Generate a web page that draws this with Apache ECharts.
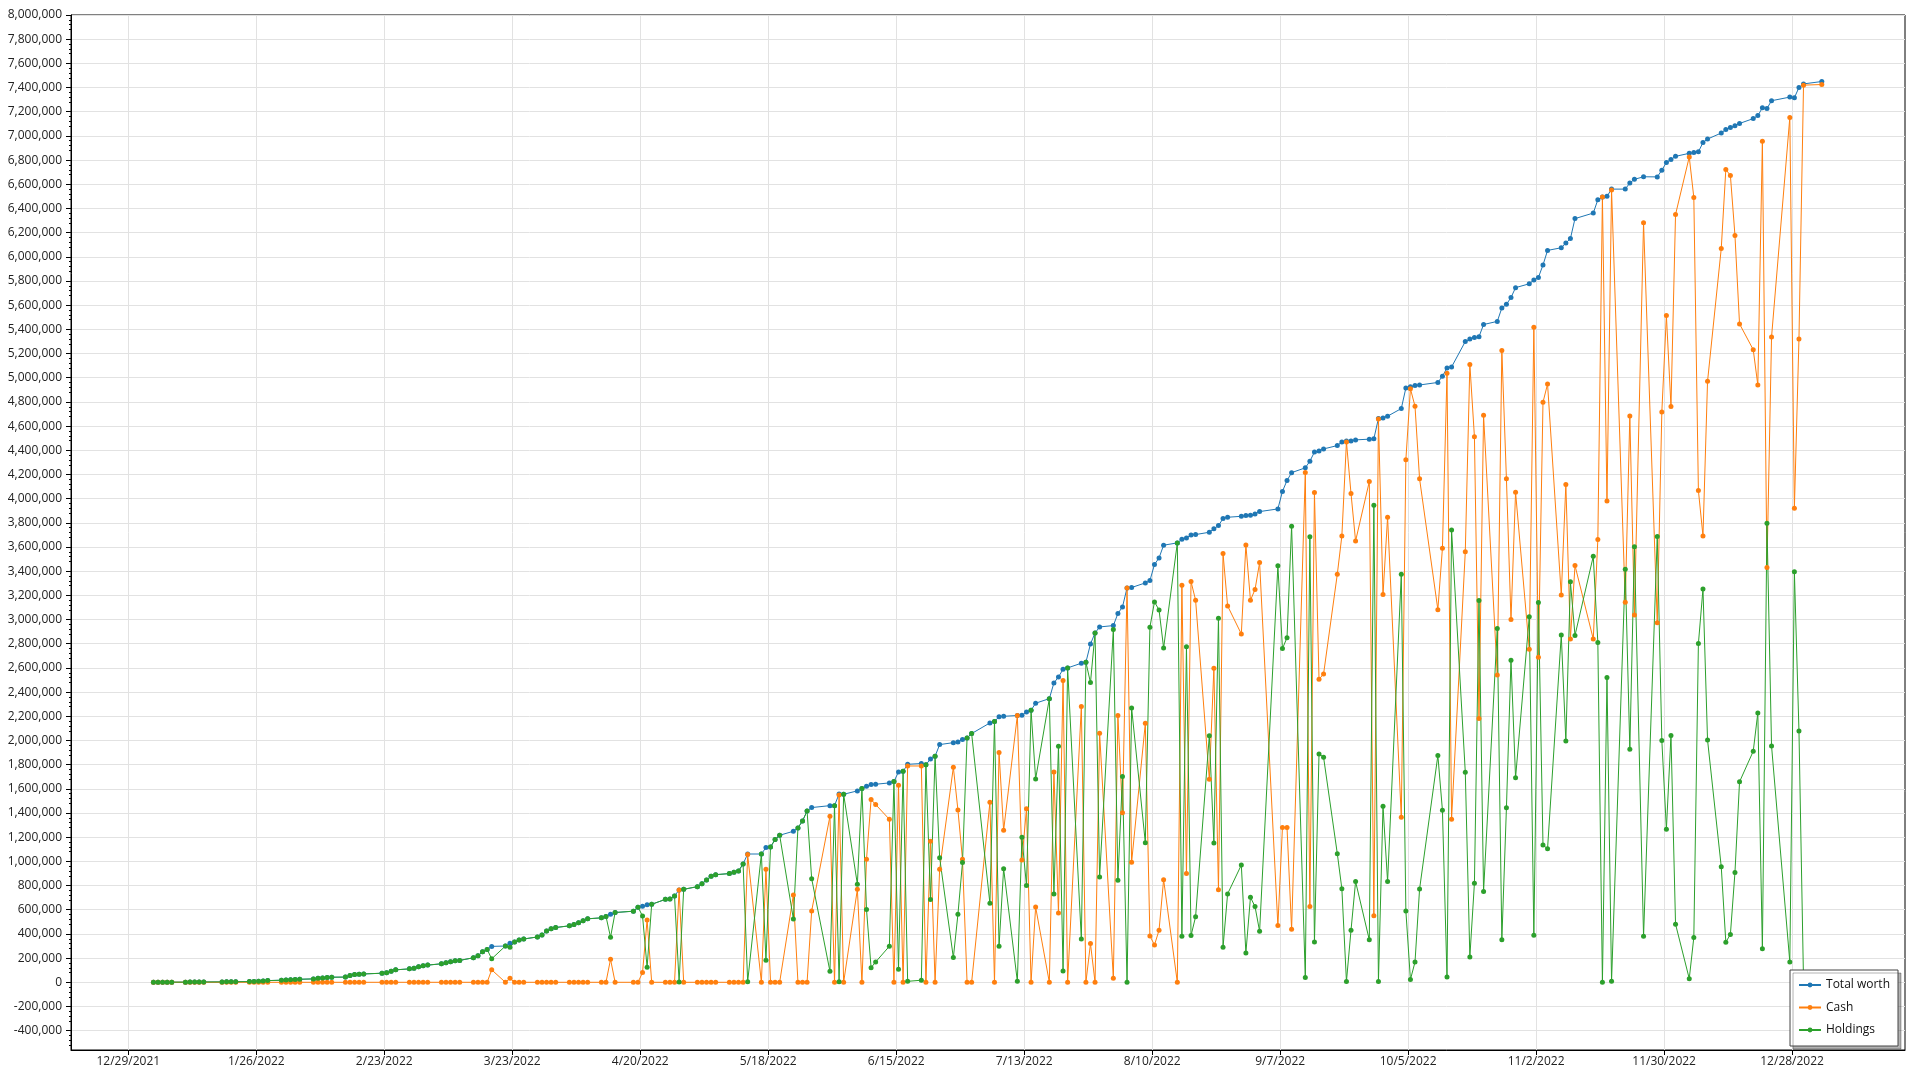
<!DOCTYPE html>
<html>
<head>
<meta charset="utf-8">
<script src="https://cdn.jsdelivr.net/npm/echarts@6/dist/echarts.min.js"></script>
<style>
html,body{margin:0;padding:0;background:#ffffff;}
#chart{width:1920px;height:1080px;}
</style>
</head>
<body>
<div id="chart"></div>
<script>
// ---------------- DATA ----------------
const dates = [
'2022-01-03','2022-01-04','2022-01-05','2022-01-06','2022-01-07','2022-01-10','2022-01-11','2022-01-12','2022-01-13','2022-01-14',
'2022-01-18','2022-01-19','2022-01-20','2022-01-21','2022-01-24','2022-01-25','2022-01-26','2022-01-27','2022-01-28','2022-01-31',
'2022-02-01','2022-02-02','2022-02-03','2022-02-04','2022-02-07','2022-02-08','2022-02-09','2022-02-10','2022-02-11','2022-02-14',
'2022-02-15','2022-02-16','2022-02-17','2022-02-18','2022-02-22','2022-02-23','2022-02-24','2022-02-25','2022-02-28',
'2022-03-01','2022-03-02','2022-03-03','2022-03-04','2022-03-07','2022-03-08','2022-03-09','2022-03-10','2022-03-11','2022-03-14',
'2022-03-15','2022-03-16','2022-03-17','2022-03-18','2022-03-21','2022-03-22','2022-03-23','2022-03-24','2022-03-25','2022-03-28',
'2022-03-29','2022-03-30','2022-03-31',
'2022-04-01','2022-04-04','2022-04-05','2022-04-06','2022-04-07','2022-04-08','2022-04-11','2022-04-12','2022-04-13','2022-04-14',
'2022-04-18','2022-04-19','2022-04-20','2022-04-21','2022-04-22','2022-04-25','2022-04-26','2022-04-27','2022-04-28','2022-04-29',
'2022-05-02','2022-05-03','2022-05-04','2022-05-05','2022-05-06','2022-05-09','2022-05-10','2022-05-11','2022-05-12','2022-05-13',
'2022-05-16','2022-05-17','2022-05-18','2022-05-19','2022-05-20','2022-05-23','2022-05-24','2022-05-25','2022-05-26','2022-05-27',
'2022-05-31',
'2022-06-01','2022-06-02','2022-06-03','2022-06-06','2022-06-07','2022-06-08','2022-06-09','2022-06-10','2022-06-13','2022-06-14',
'2022-06-15','2022-06-16','2022-06-17','2022-06-20','2022-06-21','2022-06-22','2022-06-23','2022-06-24','2022-06-27','2022-06-28',
'2022-06-29','2022-06-30',
'2022-07-01','2022-07-05','2022-07-06','2022-07-07','2022-07-08','2022-07-11','2022-07-12','2022-07-13','2022-07-14','2022-07-15',
'2022-07-18','2022-07-19','2022-07-20','2022-07-21','2022-07-22','2022-07-25','2022-07-26','2022-07-27','2022-07-28','2022-07-29',
'2022-08-01','2022-08-02','2022-08-03','2022-08-04','2022-08-05','2022-08-08','2022-08-09','2022-08-10','2022-08-11','2022-08-12',
'2022-08-15','2022-08-16','2022-08-17','2022-08-18','2022-08-19','2022-08-22','2022-08-23','2022-08-24','2022-08-25','2022-08-26',
'2022-08-29','2022-08-30','2022-08-31',
'2022-09-01','2022-09-02','2022-09-06','2022-09-07','2022-09-08','2022-09-09','2022-09-12','2022-09-13','2022-09-14','2022-09-15',
'2022-09-16','2022-09-19','2022-09-20','2022-09-21','2022-09-22','2022-09-23','2022-09-26','2022-09-27','2022-09-28','2022-09-29',
'2022-09-30',
'2022-10-03','2022-10-04','2022-10-05','2022-10-06','2022-10-07','2022-10-11','2022-10-12','2022-10-13','2022-10-14','2022-10-17',
'2022-10-18','2022-10-19','2022-10-20','2022-10-21','2022-10-24','2022-10-25','2022-10-26','2022-10-27','2022-10-28','2022-10-31',
'2022-11-01','2022-11-02','2022-11-03','2022-11-04','2022-11-07','2022-11-08','2022-11-09','2022-11-10','2022-11-14','2022-11-15',
'2022-11-16','2022-11-17','2022-11-18','2022-11-21','2022-11-22','2022-11-23','2022-11-25','2022-11-28','2022-11-29','2022-11-30',
'2022-12-01','2022-12-02','2022-12-05','2022-12-06','2022-12-07','2022-12-08','2022-12-09','2022-12-12','2022-12-13','2022-12-14',
'2022-12-15','2022-12-16','2022-12-19','2022-12-20','2022-12-21','2022-12-22','2022-12-23','2022-12-27','2022-12-28','2022-12-29',
'2022-12-30',
'2023-01-03'
];

const totalWorth = [
0,0,500,800,1000,1200,1500,1800,2000,2400,
3000,3500,4000,4500,5500,6000,8000,11000,14000,17000,
19000,22000,22500,25000,28000,33000,36000,39000,42000,43000,
56000,64000,67000,69000,75000,78000,92000,103000,111000,
117000,128000,136000,142000,153000,161000,169000,178000,181000,203000,
219000,253000,272000,297000,300000,322000,333000,350000,358000,375000,
392000,425000,442000,
453000,467000,478000,492000,508000,525000,533000,545000,563000,577000,
588000,621000,629000,642000,645000,686000,688000,714000,764000,769000,
791000,816000,846000,877000,890000,899000,910000,921000,979000,1061000,
1061000,1114000,1119000,1180000,1216000,1249000,1277000,1334000,1417000,1445000,
1461000,
1461000,1558000,1555000,1583000,1602000,1621000,1635000,1638000,1649000,1660000,
1740000,1745000,1803000,1809000,1800000,1847000,1869000,1966000,1982000,1988000,
2007000,2021000,
2057000,2145000,2156000,2197000,2200000,2206000,2208000,2236000,2250000,2308000,
2346000,2476000,2525000,2589000,2600000,2639000,2647000,2798000,2889000,2939000,
2950000,3050000,3104000,3262000,3265000,3303000,3322000,3455000,3510000,3615000,
3634000,3664000,3675000,3700000,3703000,3722000,3750000,3777000,3835000,3846000,
3854000,3860000,3863000,
3874000,3893000,3915000,4060000,4150000,4215000,4255000,4310000,4385000,4395000,
4411000,4439000,4469000,4476000,4476000,4486000,4492000,4496000,4663000,4666000,
4682000,
4745000,4915000,4925000,4935000,4940000,4961000,5013000,5080000,5089000,5299000,
5320000,5332000,5339000,5440000,5466000,5577000,5607000,5663000,5745000,5777000,
5808000,5830000,5932000,6053000,6075000,6114000,6151000,6316000,6362000,6472000,
6495000,6500000,6560000,6560000,6611000,6641000,6662000,6661000,6717000,6780000,
6805000,6831000,6856000,6862000,6868000,6945000,6974000,7024000,7054000,7069000,
7085000,7103000,7143000,7168000,7232000,7227000,7291000,7321000,7316000,7400000,
7430000,
7450000
];

const cash = [
0,0,0,0,0,0,0,0,0,0,
0,0,0,0,0,0,0,0,0,0,
0,0,0,0,0,0,0,0,0,0,
0,0,0,0,0,0,0,0,0,
0,0,0,0,0,0,0,0,0,0,
0,0,0,103000,0,33000,0,0,0,0,
0,0,0,
0,0,0,0,0,0,0,0,190000,0,
0,0,80000,516000,0,0,0,0,764000,0,
0,0,0,0,0,0,0,0,0,1056000,
0,935000,0,0,0,722000,0,0,0,590000,
1373000,
0,1550000,0,769000,0,1017000,1511000,1470000,1348000,0,
1629000,0,1789000,1789000,0,1166000,0,935000,1778000,1425000,
1017000,0,
0,1489000,0,1900000,1257000,2206000,1012000,1436000,0,623000,
0,1740000,573000,2495000,0,2280000,0,320000,0,2060000,
33000,2206000,1403000,3262000,993000,2142000,383000,309000,430000,849000,
0,3284000,899000,3314000,3160000,1679000,2597000,766000,3546000,3113000,
2881000,3617000,3160000,
3248000,3471000,469000,1280000,1280000,438000,4216000,626000,4051000,2506000,
2550000,3375000,3692000,4469000,4043000,3650000,4141000,551000,4659000,3207000,
3846000,
1364000,4322000,4909000,4764000,4164000,3082000,3590000,5037000,1348000,3561000,
5110000,4512000,2181000,4689000,2541000,5226000,4164000,3000000,4053000,2754000,
5418000,2689000,4797000,4948000,3203000,4118000,2839000,3447000,2839000,3662000,
6495000,3980000,6552000,3143000,4683000,3038000,6282000,2974000,4717000,5514000,
4763000,6350000,6826000,6491000,4067000,3692000,4970000,6069000,6722000,6673000,
6177000,5445000,5232000,4940000,6955000,3430000,5336000,7153000,3920000,5321000,
7420000,
7425000
];

const holdings = [
0,0,500,800,1000,1200,1500,1800,2000,2400,
3000,3500,4000,4500,5500,6000,8000,11000,14000,17000,
19000,22000,22500,25000,28000,33000,36000,39000,42000,43000,
56000,64000,67000,69000,75000,78000,92000,103000,111000,
117000,128000,136000,142000,153000,161000,169000,178000,181000,203000,
219000,253000,272000,194000,300000,289000,333000,350000,358000,375000,
392000,425000,442000,
453000,467000,478000,492000,508000,525000,533000,545000,373000,577000,
588000,621000,549000,124000,645000,686000,688000,714000,3000,769000,
791000,816000,846000,877000,890000,899000,910000,921000,979000,5000,
1061000,182000,1119000,1180000,1216000,524000,1277000,1334000,1417000,857000,
91000,
1461000,5000,1555000,811000,1602000,601000,121000,168000,298000,1660000,
108000,1745000,8000,17000,1800000,684000,1869000,1031000,204000,562000,
990000,2021000,
2057000,653000,2156000,298000,940000,8000,1199000,800000,2250000,1682000,
2346000,731000,1952000,94000,2600000,358000,2647000,2479000,2889000,871000,
2917000,844000,1701000,0,2269000,1155000,2936000,3146000,3080000,2765000,
3634000,380000,2776000,386000,543000,2040000,1152000,3011000,290000,731000,
970000,243000,703000,
626000,422000,3444000,2760000,2850000,3772000,39000,3684000,334000,1889000,
1861000,1064000,774000,7000,430000,833000,351000,3945000,7000,1456000,
833000,
3374000,590000,23000,167000,771000,1876000,1423000,43000,3741000,1738000,
210000,820000,3158000,751000,2925000,351000,1443000,2663000,1692000,3023000,
390000,3141000,1135000,1105000,2872000,1996000,3312000,2869000,3523000,2810000,
0,2520000,8000,3417000,1928000,3603000,380000,3687000,2000000,1266000,
2042000,481000,30000,371000,2801000,3253000,2004000,955000,332000,396000,
908000,1658000,1911000,2228000,277000,3797000,1955000,168000,3396000,2079000,
10000,
25000
];

const seriesNames = ['Total worth', 'Cash', 'Holdings'];
const seriesColors = ['#1f77b4', '#ff7f0e', '#2ca02c'];

const xTickDates = ['2021-12-29','2022-01-26','2022-02-23','2022-03-23','2022-04-20','2022-05-18','2022-06-15',
                    '2022-07-13','2022-08-10','2022-09-07','2022-10-05','2022-11-02','2022-11-30','2022-12-28'];

const yTickValues = [-400000,-200000,0,200000,400000,600000,800000,1000000,1200000,1400000,1600000,1800000,
  2000000,2200000,2400000,2600000,2800000,3000000,3200000,3400000,3600000,3800000,4000000,4200000,4400000,
  4600000,4800000,5000000,5200000,5400000,5600000,5800000,6000000,6200000,6400000,6600000,6800000,7000000,
  7200000,7400000,7600000,7800000,8000000];

// ---------------- CHART ----------------
function parseDay(s, hour) {
  const p = s.split('-').map(Number);
  return new Date(p[0], p[1] - 1, p[2], hour || 0).getTime();
}
const DAY = 86400000;
const axisBase = parseDay('2021-12-29');
const xMin = axisBase - 12.54 * DAY;
const xMax = axisBase + 388.7 * DAY;
const xTickValues = xTickDates.map(d => parseDay(d, 0));

function fmtDate(v) {
  const d = new Date(v);
  return (d.getMonth() + 1) + '/' + d.getDate() + '/' + d.getFullYear();
}
function fmtNum(v) {
  return Math.round(v).toLocaleString('en-US');
}

const seriesValues = [totalWorth, cash, holdings];
const FONT = 'Open Sans';

const chart = echarts.init(document.getElementById('chart'), null, {renderer: 'canvas'});
chart.setOption({
  animation: false,
  backgroundColor: '#ffffff',
  textStyle: {fontFamily: FONT},
  grid: {
    left: 71, right: 15, top: 15, bottom: 30,
    show: true, borderColor: '#000000', borderWidth: 1, backgroundColor: 'transparent'
  },
  legend: {
    z: 20,
    orient: 'vertical',
    right: 22, bottom: 34,
    padding: [9, 8, 10, 8],
    itemGap: 10.5,
    itemWidth: 22, itemHeight: 6,
    backgroundColor: '#ffffff',
    borderColor: '#444444', borderWidth: 1,
    shadowColor: 'rgba(0,0,0,0.3)', shadowBlur: 0, shadowOffsetX: 3, shadowOffsetY: 3,
    textStyle: {fontFamily: FONT, fontSize: 12, color: '#111111'},
    data: seriesNames
  },
  xAxis: {
    type: 'value',
    min: xMin, max: xMax,
    scale: true,
    axisLine: {show: true, onZero: false, lineStyle: {color: '#000000', width: 1}},
    axisTick: {show: true, length: 5, lineStyle: {color: '#000000'}, customValues: xTickValues},
    axisLabel: {
      customValues: xTickValues,
      formatter: fmtDate,
      fontFamily: FONT, fontSize: 12, color: '#222222', margin: 6
    },
    splitLine: {show: true, lineStyle: {color: '#e2e2e2', width: 1}},
    minorTick: {show: false}
  },
  yAxis: {
    type: 'value',
    min: -560000, max: 8000000, interval: 200000,
    axisLine: {show: true, onZero: false, lineStyle: {color: '#000000', width: 1}},
    axisTick: {show: true, length: 5, lineStyle: {color: '#000000'}, customValues: yTickValues},
    minorTick: {show: true, splitNumber: 5, length: 2, lineStyle: {color: '#000000'}},
    axisLabel: {
      customValues: yTickValues,
      formatter: fmtNum,
      fontFamily: FONT, fontSize: 12, color: '#222222', margin: 9
    },
    splitLine: {show: true, lineStyle: {color: '#e2e2e2', width: 1}},
    minorSplitLine: {show: false}
  },
  series: seriesNames.map((name, k) => ({
    name: name,
    type: 'line',
    data: dates.map((d, i) => [parseDay(d, 12), seriesValues[k][i]]),
    symbol: 'circle',
    symbolSize: 5,
    showSymbol: true,
    showAllSymbol: true,
    color: seriesColors[k],
    itemStyle: {color: seriesColors[k]},
    lineStyle: {color: seriesColors[k], width: 1},
    emphasis: {disabled: true},
    z: 2,
    zlevel: 0
  }))
});
</script>
</body>
</html>
